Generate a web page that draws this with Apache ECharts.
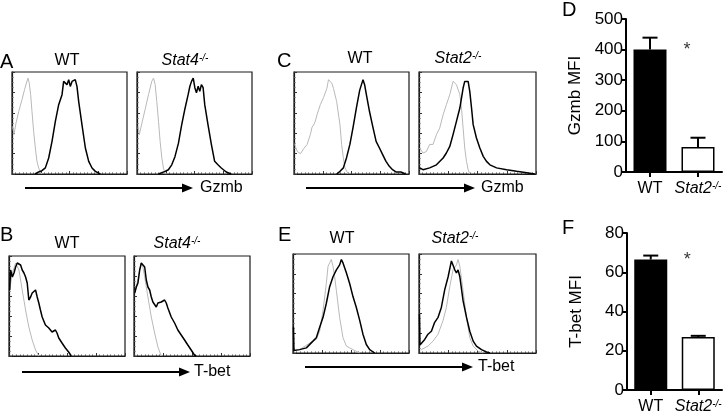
<!DOCTYPE html>
<html><head><meta charset="utf-8">
<script src="https://cdn.jsdelivr.net/npm/echarts@6/dist/echarts.min.js"></script>
<style>html,body{margin:0;padding:0;background:#fff}#c{width:728px;height:416px}</style>
</head><body><div id="c"></div>
<script>
// ---- Histogram data: [channel (0-100 scale), % of max] ----
const aWtGray = [[0.6,46.7],[1.7,38.6],[3.5,50],[5.8,61],[8.7,73],[11,83],[13,91],[13.9,94],[15,89],[16.2,78],[17.4,61],[18.8,42],[20.3,25.5],[21.7,12.4],[23.2,5.9],[24.6,2],[26,0]];
const aWtBlack = [[20,0],[20.3,1],[23.2,2],[26,3.3],[29,6],[31.9,15.7],[34.8,32],[37.7,51.6],[40.6,68],[43.5,77.8],[44.9,90.8],[46.4,92.5],[47.8,87.6],[49.3,92.5],[50.7,85.9],[52.2,90.8],[53.6,89],[55,92.5],[56.5,85.9],[58,71],[60.9,48],[63.8,25.5],[66.7,12.4],[69.6,5.9],[72.5,2.6],[76.8,0]];
const aKoGray = [[0.9,46.7],[2,38.6],[4.3,50],[7.2,64],[10,77.8],[12.9,91],[14.4,94],[15.8,87.6],[17.2,71],[18.7,51.6],[20.1,32],[21.6,15.7],[23,5.9],[24.4,1],[25.9,0]];
const aKoBlack = [[18.7,0],[24.4,2.6],[27.3,4.2],[30.2,9],[33,17],[36,30],[38.8,48],[41.7,64],[44.5,78],[46,86],[47.4,90.8],[48.9,94],[50.3,84.6],[51.7,79.7],[53.2,86],[54.6,81],[56,87.6],[57.5,84.6],[58.9,68],[61.8,48],[64.7,28.8],[67.5,12.4],[70.4,9],[73.3,5.9],[77.6,2],[81.9,0]];

const bWtGray = [[0.6,66],[2.9,83],[5.7,93],[7.1,94],[8.6,86],[11.4,66],[14.3,46],[17.1,29],[20,16],[22.9,6],[25.7,0]];
const bWtBlack = [[0.6,66],[1.4,86],[2.9,79],[4.3,83],[5.7,89],[7.1,93],[8.6,94],[10,91],[11.4,86],[12.9,83],[14.3,79],[15.7,73],[17.1,56],[18.6,59],[20,63],[21.4,61],[22.9,66],[24.3,59],[25.7,53],[27.1,46],[28.6,39],[31.4,31],[34.3,28],[37.1,24],[40,26],[41.4,23],[42.9,18],[45.7,13],[48.6,8],[51.4,4],[53.7,0]];
const bKoGray = [[0.6,63],[2,69],[4.9,86],[6.3,93],[7.7,89],[9.2,79],[12,59],[14.9,39],[17.8,23],[20.6,9],[23.5,0]];
const bKoBlack = [[0.6,63],[2,69],[3.4,73],[4.9,86],[6.3,93],[7.7,91],[9.2,89],[10.6,76],[12,69],[13.5,66],[14.9,59],[16.3,54],[17.8,53],[19.2,49],[20.6,53],[23.5,54],[26.4,56],[27.8,53],[29.2,48],[32.1,39],[35,33],[37.8,26],[40.7,21],[43.6,16],[46.4,11],[49.3,6],[52.1,1],[53.6,0]];

const cWtGray = [[0.6,29],[2.9,22],[5.7,20],[8.6,25],[11.4,29],[14.3,39],[15.7,46],[17.1,48],[18.6,52],[20,58],[22.9,68],[25.7,75],[28.6,84],[30,92.5],[31.4,92.5],[32.9,89],[34.3,84],[37.1,71],[40,48],[41.4,29],[42.9,16],[44.3,6],[47.1,0]];
const cWtBlack = [[37.1,0],[40,2.6],[42.9,6],[45.7,16],[48.6,29],[51.4,46],[54.3,65],[57.1,82],[60,92.5],[61.4,87.6],[62.9,78],[65.7,61],[68.6,46],[71.4,32],[74.3,25.5],[77.1,19],[80,12.4],[82.9,7.5],[85.7,4.2],[88.6,2],[92.9,2],[97,0]];
const cKoGray = [[0.6,25.5],[3.4,20.6],[6.3,22],[9.1,29],[12,29],[14.9,38.6],[17.7,45],[20.6,58],[23.4,68],[26.3,77.8],[29.1,90.8],[30.6,92.5],[32,87.6],[33.4,86],[34.9,77.8],[36.3,64.7],[37.7,45],[39.1,25.5],[40.6,12.4],[42,4.2],[43.4,0]];
const cKoBlack = [[0.6,6],[3.4,4.2],[9.1,6],[14.9,9],[20.6,15.7],[23.4,20.6],[26.3,27],[29.1,38.6],[32,51.6],[34.9,64.7],[36.3,74.5],[37.7,84.3],[39.1,90.8],[40.6,92.5],[42,90.8],[43.4,81],[44.9,64.7],[46.3,48.4],[49.1,35.3],[52,25.5],[54.9,17.3],[57.7,12.4],[60.6,9],[66.3,6],[74.9,4.2],[83.4,2.6],[92,1.3],[99,0]];

const eWtGray = [[5.7,3.4],[14.4,10],[20.1,13.7],[23,22],[25.9,43],[28.7,70],[30.2,87.6],[31.6,91],[33,94.5],[34.5,87.6],[35.9,77],[37.4,63],[40.2,36],[43.1,15.5],[46,7],[51.7,3.4],[57.5,0]];
const eWtBlack = [[0.4,26],[0.8,2.5],[1.4,2.4],[5.7,3.4],[11.5,5.2],[17.2,12],[20.1,15.5],[23,26],[25.9,36],[28.7,50],[31.6,67],[34.5,77],[37.4,84],[40.2,89],[41.7,94.5],[43.1,91],[46,81],[48.9,70],[51.7,57],[54.6,46],[57.5,33],[60.3,19],[63.2,8.6],[66.1,3.4],[70.4,0]];
const eKoGray = [[2,3.4],[7.7,7],[12,12],[16.3,19],[20.6,33],[23.4,46],[26.3,67],[29.1,84],[32,89],[33.4,94.5],[34.9,87.6],[37.7,63],[40.6,36],[43.4,15.5],[46.3,7],[50.6,1.7],[54.9,0]];
const eKoBlack = [[0.4,39.5],[0.8,8],[2,10],[4.9,13.7],[7.7,19],[10.6,22],[13.4,31],[16.3,36],[19.1,46],[22,64],[24.9,77],[27.7,93],[29.1,94.5],[30.6,84],[32,81],[33.4,84],[34.9,77],[37.7,52.6],[40.6,36],[43.4,22],[46.3,12],[49.1,7],[53.4,3.4],[57.7,1],[60.6,0]];

// ---- Bar chart data ----
const barCategories = ['WT', 'Stat2-/-'];
const gzmbMFI = [400, 82];
const gzmbErrTop = [439, 112];
const tbetMFI = [66.5, 27];
const tbetErrTop = [68.5, 27.6];
const gzmbTicks = [0, 100, 200, 300, 400, 500];
const tbetTicks = [0, 20, 40, 60, 80];

const FONT = 'Liberation Sans, Arial, sans-serif';

const histPanels = [
  {grid:{left:12, top:72, width:115, height:102}, gray:aWtGray, black:aWtBlack},
  {grid:{left:137, top:72, width:115, height:102}, gray:aKoGray, black:aKoBlack},
  {grid:{left:9, top:256, width:116, height:100}, gray:bWtGray, black:bWtBlack},
  {grid:{left:134, top:256, width:116, height:100}, gray:bKoGray, black:bKoBlack},
  {grid:{left:294, top:72, width:115, height:102}, gray:cWtGray, black:cWtBlack},
  {grid:{left:419, top:72, width:117, height:102}, gray:cKoGray, black:cKoBlack},
  {grid:{left:293, top:254, width:116, height:99}, gray:eWtGray, black:eWtBlack},
  {grid:{left:419, top:254, width:117, height:99}, gray:eKoGray, black:eKoBlack}
];

const grids = [], xAxes = [], yAxes = [], series = [];
histPanels.forEach((p, i) => {
  grids.push(Object.assign({show:true, borderColor:'#1a1a1a', borderWidth:1.2, backgroundColor:'#fff'}, p.grid));
  xAxes.push({type:'value', gridIndex:i, min:0, max:100, interval:25,
    axisLine:{show:true, lineStyle:{color:'#1a1a1a', width:1.2}},
    axisTick:{show:true, inside:true, length:3, lineStyle:{color:'#333', width:1}},
    minorTick:{show:true, splitNumber:8, length:1.5, lineStyle:{color:'#555'}},
    axisLabel:{show:false}, splitLine:{show:false}});
  yAxes.push({type:'value', gridIndex:i, min:0, max:100, interval:20,
    axisLine:{show:true, lineStyle:{color:'#1a1a1a', width:1.2}},
    axisTick:{show:true, inside:true, length:3, lineStyle:{color:'#333', width:1}},
    minorTick:{show:true, splitNumber:4, length:1.5, lineStyle:{color:'#555'}},
    axisLabel:{show:false}, splitLine:{show:false}});
  series.push({type:'line', xAxisIndex:i, yAxisIndex:i, data:p.gray, showSymbol:false, symbol:'none',
    lineStyle:{color:'#b9b9b9', width:1}, animation:false, z:2});
  series.push({type:'line', xAxisIndex:i, yAxisIndex:i, data:p.black, showSymbol:false, symbol:'none',
    lineStyle:{color:'#000', width:1.5}, animation:false, z:3});
});

// Bar grids
const barRich = {
  n:{fontFamily:FONT, fontSize:16, color:'#000'},
  i:{fontFamily:FONT, fontSize:16, fontStyle:'italic', color:'#000'},
  s:{fontFamily:FONT, fontSize:10, fontStyle:'italic', color:'#000', verticalAlign:'top', lineHeight:10, padding:[0,0,6,0]}
};
function catFormatter(v){
  if (v.indexOf('-/-') > 0) return '{i|' + v.replace('-/-','') + '}{s|-/-}';
  return '{n|' + v + '}';
}
const barDefs = [
  {grid:{left:626, right:6, top:19, height:153}, vals:gzmbMFI, err:gzmbErrTop, ticks:gzmbTicks, name:'Gzmb MFI', star:[1, 400]},
  {grid:{left:627, right:6, top:233, height:157}, vals:tbetMFI, err:tbetErrTop, ticks:tbetTicks, name:'T-bet MFI', star:[1, 66]}
];
barDefs.forEach((b, k) => {
  const gi = grids.length;
  grids.push(b.grid);
  xAxes.push({type:'category', gridIndex:gi, data:barCategories, boundaryGap:true,
    axisLine:{show:true, lineStyle:{color:'#000', width:2}},
    axisTick:{show:true, alignWithLabel:true, length:5, lineStyle:{color:'#000', width:2}},
    axisLabel:{interval:0, hideOverlap:false, margin:9, formatter:catFormatter, rich:barRich}, splitLine:{show:false}});
  const tmax = b.ticks[b.ticks.length-1];
  yAxes.push({type:'value', gridIndex:gi, min:0, max:tmax, interval:b.ticks[1]-b.ticks[0],
    name:b.name, nameLocation:'middle', nameGap:42, nameRotate:90,
    nameTextStyle:{fontFamily:FONT, fontSize:17, color:'#000'},
    axisLine:{show:true, lineStyle:{color:'#000', width:2}},
    axisTick:{show:true, length:5, lineStyle:{color:'#000', width:2}},
    axisLabel:{fontFamily:FONT, fontSize:17, color:'#000', margin:3}, splitLine:{show:false}});
  series.push({type:'bar', xAxisIndex:gi, yAxisIndex:gi, barWidth:33, animation:false,
    data:b.vals.map((v, j) => ({value:v, itemStyle: j === 0 ? {color:'#000', borderColor:'#000', borderWidth:1.5} : {color:'#fff', borderColor:'#000', borderWidth:1.5}})), z:2});
  series.push({type:'custom', xAxisIndex:gi, yAxisIndex:gi, animation:false, z:3,
    data:b.vals.map((v, j) => [j, v, b.err[j]]),
    renderItem:function(params, api){
      const p1 = api.coord([api.value(0), api.value(1)]);
      const p2 = api.coord([api.value(0), api.value(2)]);
      const half = 7.5;
      return {type:'group', children:[
        {type:'line', shape:{x1:p1[0], y1:p1[1], x2:p2[0], y2:p2[1]}, style:{stroke:'#000', lineWidth:2}},
        {type:'line', shape:{x1:p2[0]-half, y1:p2[1], x2:p2[0]+half, y2:p2[1]}, style:{stroke:'#000', lineWidth:2}}
      ]};
    }});
  series.push({type:'scatter', xAxisIndex:gi, yAxisIndex:gi, animation:false, symbolSize:0,
    data:[b.star], label:{show:true, formatter:'*', position:'inside', offset:[-11,0], fontFamily:FONT, fontSize:18, color:'#000'}});
});

// ---- Annotations ----
const subRich = {
  i:{fontFamily:FONT, fontSize:16, fontStyle:'italic', fill:'#000', color:'#000'},
  s:{fontFamily:FONT, fontSize:10, fontStyle:'italic', fill:'#000', color:'#000', verticalAlign:'top', lineHeight:10, padding:[0,0,6,0]}
};
function label(x, y, text, size, align){
  return {type:'text', x:x, y:y, silent:true, style:{text:text, fontFamily:FONT, fontSize:size||16, fill:'#000', align:align||'center', verticalAlign:'middle'}};
}
function koLabel(x, y, gene){
  return {type:'text', x:x, y:y, silent:true, style:{text:'{i|' + gene + '}{s|-/-}', rich:subRich, fontFamily:FONT, fontSize:16, fill:'#000', align:'center', verticalAlign:'middle'}};
}
function arrow(x1, x2, y){
  return {type:'group', silent:true, children:[
    {type:'line', shape:{x1:x1, y1:y, x2:x2-8, y2:y}, style:{stroke:'#000', lineWidth:2}},
    {type:'polygon', shape:{points:[[x2-11,y-4.5],[x2,y],[x2-11,y+4.5]]}, style:{fill:'#000'}}
  ]};
}
const graphics = [
  label(0, 62, 'A', 20, 'left'), label(0, 235, 'B', 20, 'left'), label(277, 61, 'C', 20, 'left'),
  label(562, 10, 'D', 20, 'left'), label(278, 235, 'E', 20, 'left'), label(562, 228, 'F', 20, 'left'),
  label(67, 61, 'WT'), koLabel(185, 61, 'Stat4'),
  label(67, 244, 'WT'), koLabel(177, 244, 'Stat4'),
  label(360, 59, 'WT'), koLabel(458, 59, 'Stat2'),
  label(342, 239, 'WT'), koLabel(455, 239, 'Stat2'),
  arrow(25, 193, 188), label(200, 188, 'Gzmb', 16, 'left'),
  arrow(22, 190, 372), label(194, 372, 'T-bet', 16, 'left'),
  arrow(306, 475, 188), label(481, 188, 'Gzmb', 16, 'left'),
  arrow(305, 473, 367), label(478, 367, 'T-bet', 16, 'left')
];

const chart = echarts.init(document.getElementById('c'), null, {renderer:'canvas'});
chart.setOption({
  backgroundColor:'#fff', animation:false,
  grid:grids, xAxis:xAxes, yAxis:yAxes, series:series, graphic:graphics
});
</script></body></html>
